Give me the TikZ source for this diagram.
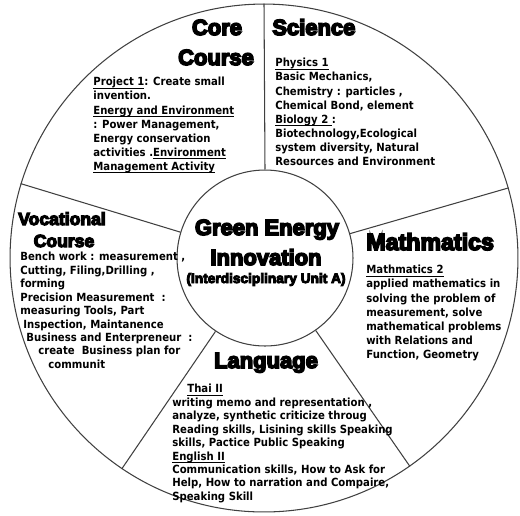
\documentclass[tikz,border=0pt]{standalone}
\usepackage{fontspec}
\setmainfont{DejaVu Sans}[FakeStretch=0.9]
\newfontfamily\headfont{Liberation Sans}[BoldFeatures={FakeBold=7}]
\usetikzlibrary{shapes.geometric}
\newcommand{\subj}[1]{\underline{\smash{#1}}\vphantom{#1}}

\tikzset{
	rim/.style={draw=black!75, line width=0.6pt},
	heading/.style={font=\headfont\bfseries\fontsize{12.5}{14}\selectfont, anchor=base, inner sep=0},
	smallheading/.style={font=\headfont\bfseries\fontsize{10}{12}\selectfont, anchor=base, inner sep=0},
	subheading/.style={font=\headfont\bfseries\fontsize{7.8}{9}\selectfont, anchor=base, inner sep=0},
	body/.style={font=\bfseries\fontsize{6.4}{8}\selectfont, align=left, anchor=north west, inner sep=0},
	tightbody/.style={body, font=\bfseries\fontsize{6.4}{7.65}\selectfont}
}

\begin{document}
\begin{tikzpicture}[x=0.02cm, y=-0.02cm]
		%%%%% START %%%%%
		\useasboundingbox (0, 0) rectangle (520, 515);
		
		\node[rim, circle, minimum size=10.16cm, inner sep=0] (wheel) at (264, 258) {};
		\node[rim, circle, minimum size=3.52cm, inner sep=0] (hub) at (265, 258) {};
		\foreach \a in {16, 90, 163, 236, 305}
			\draw[rim] (hub.\a) -- (wheel.\a);
		
		% centre
		\node[heading] (green) at (267, 235) {Green Energy};
		\node[heading] (innovation) at (266, 265) {Innovation};
		\node[subheading] (unit) at (266, 283) {(Interdisciplinary Unit A)};
		
		% core course
		\node[heading] (core) at (217, 35) {Core};
		\node[heading] (corecourse) at (216, 65) {Course};
		\node[body] (coretext) at (93, 77) {\subj{Project 1}: Create small\\
			invention.\\
			\subj{Energy and Environment}\\
			: Power Management,\\
			Energy conservation\\
			activities .\subj{Environment}\\
			\subj{Management Activity}};
		
		% science
		\node[heading, anchor=base west] (science) at (272, 35) {Science};
		\node[body] (sciencetext) at (275, 58) {\subj{Physics 1}\\
			Basic Mechanics,\\
			Chemistry : particles ,\\
			Chemical Bond, element\\
			\subj{Biology 2 }:\\
			Biotechnology,Ecological\\
			system diversity, Natural\\
			Resources and Environment};
		
		% vocational
		\node[smallheading] (vocational) at (62, 225) {Vocational};
		\node[smallheading] (voccourse) at (64, 247) {Course};
		\node[tightbody] (voctext) at (20, 252) {Bench work : measurement ,\\
			Cutting, Filing,Drilling ,\\
			forming\\
			Precision Measurement \ :\\
			measuring Tools, Part\\
			\hspace{0.06cm}Inspection, Maintanence\\
			\hspace{0.12cm}Business and Enterpreneur \ :\\
			\hspace{0.36cm}create \ Business plan for\\
			\hspace{0.56cm}communit};
		
		% mathmatics
		\node[heading, anchor=base west, font=\headfont\bfseries\fontsize{13.2}{14}\selectfont] (math) at (366, 250) {Mathmatics};
		\node[body] (mathtext) at (366, 265) {\subj{Mathmatics 2}\\
			applied mathematics in\\
			solving the problem of\\
			measurement, solve\\
			mathematical problems\\
			with Relations and\\
			Function, Geometry};
		
		% language
		\node[heading] (language) at (266, 368) {Language};
		\node[tightbody] (langtext) at (172, 384) {\hspace{0.3cm}\subj{Thai II}\\
			writing memo and representation ,\\
			analyze, synthetic criticize throug\\
			Reading skills, Lisining skills Speaking\\
			skills, Pactice Public Speaking\\
			\subj{English II}\\
			Communication skills, How to Ask for\\
			Help, How to narration and Compaire,\\
			Speaking Skill};
		
		%%%%% END %%%%%
	\end{tikzpicture}
\end{document}
